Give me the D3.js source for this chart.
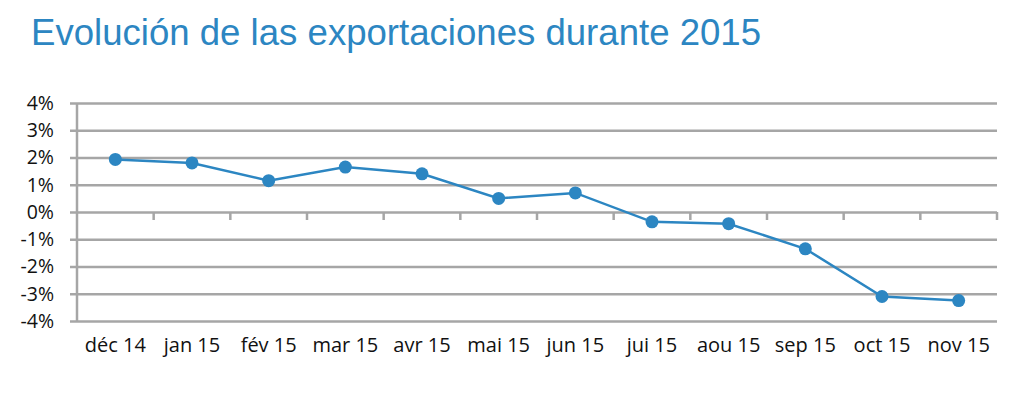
<!DOCTYPE html>
<html><head><meta charset="utf-8">
<script src="https://cdn.jsdelivr.net/npm/d3@7"></script>
<style>body{margin:0;background:#fff}svg{display:block}</style>
</head><body>
<script>
const categories = ["déc 14","jan 15","fév 15","mar 15","avr 15","mai 15","jun 15","jui 15","aou 15","sep 15","oct 15","nov 15"];
const values = [1.93, 1.8, 1.15, 1.65, 1.4, 0.5, 0.7, -0.36, -0.43, -1.35, -3.1, -3.25];
const yTicks = [4,3,2,1,0,-1,-2,-3,-4];
const title = "Evolución de las exportaciones durante 2015";

(function () {
const W = 1024, H = 393;
const svg = d3.select("body").append("svg").attr("width", W).attr("height", H);
const mLeft = 77, mRight = 997, mTop = 103, mBottom = 321;
const x = d3.scaleBand().domain(categories).range([mLeft, mRight]);
const y = d3.scaleLinear().domain([-4, 4]).range([mBottom, mTop]);
const blue = "#2c86c2", grid = "#a6a6a6";
const tickFont = "Open Sans, Lato, sans-serif";

svg.append("text").attr("x", 31).attr("y", 45).text(title)
  .attr("font-family", "Liberation Sans, Arial, sans-serif").attr("font-size", 36.6)
  .attr("fill", blue);

const yAxis = d3.axisLeft(y).tickValues(yTicks).tickSize(-(mRight - mLeft) - 7).tickFormat(d => d + "%");
const gy = svg.append("g").attr("transform", `translate(${mLeft - 7},0)`).call(yAxis);
gy.select(".domain").remove();
gy.selectAll(".tick line").attr("stroke", grid).attr("stroke-width", 2.5);
gy.selectAll(".tick text").attr("x", -16).attr("font-family", tickFont).attr("font-size", 19.5).attr("fill", "#111");
svg.append("line").attr("x1", mLeft).attr("x2", mLeft).attr("y1", mTop).attr("y2", mBottom)
  .attr("stroke", grid).attr("stroke-width", 2.5);

const edges = categories.map(c => x(c)).concat([mRight]).slice(1);
svg.append("g").selectAll("line").data(edges).join("line")
  .attr("x1", d => d).attr("x2", d => d).attr("y1", y(0)).attr("y2", y(0) + 8)
  .attr("stroke", grid).attr("stroke-width", 2.5);

svg.append("g").selectAll("text").data(categories).join("text")
  .attr("x", d => x(d) + x.bandwidth() / 2).attr("y", 352)
  .attr("text-anchor", "middle").attr("font-family", tickFont).attr("font-size", 20).attr("fill", "#111")
  .text(d => d);

const cx = (d, i) => x(categories[i]) + x.bandwidth() / 2;
svg.append("path").datum(values)
  .attr("d", d3.line().x(cx).y(d => y(d)))
  .attr("fill", "none").attr("stroke", blue).attr("stroke-width", 2.5);
svg.append("g").selectAll("circle").data(values).join("circle")
  .attr("cx", cx).attr("cy", d => y(d)).attr("r", 6.5).attr("fill", blue);
})();
</script>
</body></html>
